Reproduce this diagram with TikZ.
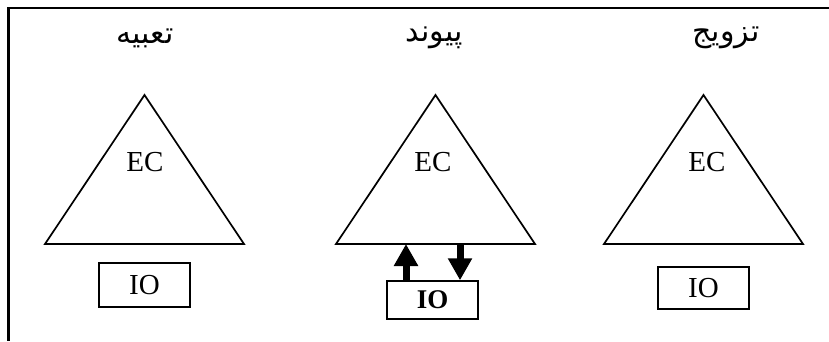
\documentclass[tikz,border=0pt]{standalone}
\usepackage{fontspec}
\setmainfont{Liberation Serif}
\newfontfamily\arabicfont[Script=Arabic]{DejaVu Sans}
\TeXXeTstate=1
\usetikzlibrary{arrows.meta}
\begin{document}
\begin{tikzpicture}[x=1pt,y=-1pt,
  tri/.style={line width=1.7pt, line join=miter},
  iobox/.style={draw, line width=1.5pt, inner sep=0pt, minimum width=91pt, font=\fontsize{29}{29}\selectfont},
  title/.style={font=\arabicfont\fontsize{30}{30}\selectfont},
  ec/.style={font=\fontsize{29}{29}\selectfont},
  fat/.style={line width=7pt, -{Triangle[length=22pt,width=23pt]}}]
\useasboundingbox (0,0) rectangle (829,341);
\fill[white] (0,0) rectangle (829,341);
% frame
\draw[line width=2.6pt] (829,8) -- (8.5,8) -- (8.5,341);
% titles
\node[title] (t1) at (145,38) {\beginR تعبیه\endR};
\node[title] (t2) at (434,38) {\beginR پیوند\endR};
\node[title] (t3) at (726,38) {\beginR تزویج\endR};
% triangles
\coordinate (p1) at (144.5,95);
\coordinate (l1) at (45,244);
\coordinate (r1) at (244,244);
\coordinate (p2) at (435.5,95);
\coordinate (l2) at (336,244);
\coordinate (r2) at (535,244);
\coordinate (p3) at (703.5,95);
\coordinate (l3) at (604,244);
\coordinate (r3) at (803,244);
\draw[tri] (p1) -- (l1) -- (r1) -- cycle;
\draw[tri] (p2) -- (l2) -- (r2) -- cycle;
\draw[tri] (p3) -- (l3) -- (r3) -- cycle;
\node[ec] (ec1) at (145,162) {EC};
\node[ec] (ec2) at (433,162) {EC};
\node[ec] (ec3) at (707,162) {EC};
% IO boxes
\node[iobox, minimum height=44pt] (io1) at (144.5,285) {IO};
\node[iobox, minimum height=38pt, font=\fontsize{27}{27}\selectfont\bfseries] (io2) at (432.5,300) {IO};
\node[iobox, minimum height=42pt] (io3) at (703.5,288) {IO};
% arrows
\coordinate (a1) at (406,244);
\coordinate (a2) at (460,244);
\draw[fat] (io2.north -| a1) -- (a1);
\draw[fat] (a2) -- (io2.north -| a2);
\end{tikzpicture}
\end{document}
